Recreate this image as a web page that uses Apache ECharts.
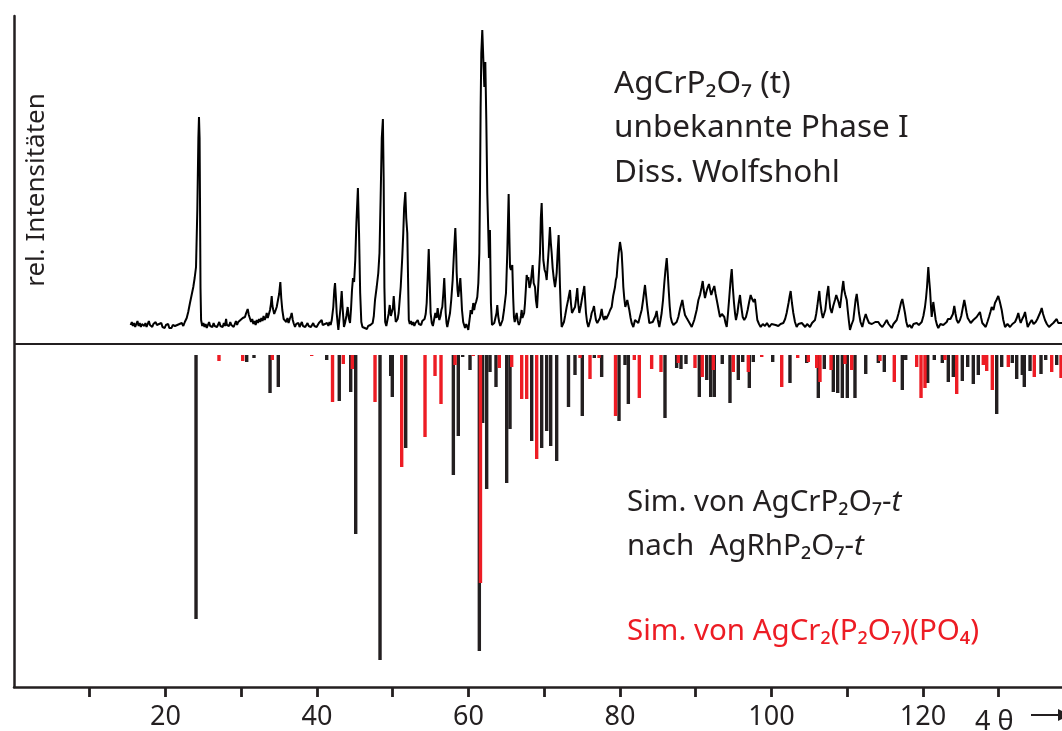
<!DOCTYPE html>
<html>
<head>
<meta charset="utf-8">
<script src="https://cdn.jsdelivr.net/npm/echarts@6/dist/echarts.min.js"></script>
<style>
  html, body { margin: 0; padding: 0; background: #fff; }
  #chart { width: 1062px; height: 731px; }
</style>
</head>
<body>
<div id="chart"></div>
<script>
const FONT = '"Noto Sans", "Open Sans", sans-serif';
const INK = '#231f20';
const RED = '#ed1c24';

// measured powder pattern AgCrP2O7 (t): [4θ, rel. intensity]
const observed = [
  [15.4,3],[15.55,6],[15.7,2],[15.85,5],[16.0,1],[16.15,4],[16.3,7],[16.45,2],[16.6,5],[16.75,1],[16.9,4],[17.05,6],[17.2,2],[17.35,5],[17.5,1],[17.65,3],[17.8,7],[17.95,3],[18.1,5],[18.25,1],[18.4,4],[18.55,2],[18.7,6],[18.85,3],[19.0,1],[19.15,4],[19.3,2],[19.45,5],[19.6,1],[19.75,3],[19.9,0],[20.05,3],[20.2,1],[20.35,4],[20.5,0],[20.65,2],[20.8,0],[20.95,3],[21.1,1],[21.25,2],[21.4,0],[21.55,3],[21.7,1],[21.85,4],[22.0,2],[22.15,5],[22.35,2],
  [22.55,6],[22.8,10],[23.0,16],[23.23,25],[23.45,33],[23.67,41],[23.85,50],[24.03,61],[24.2,118],[24.34,190],[24.42,211],[24.5,190],[24.56,120],[24.62,40],[24.7,8],
  [24.85,2],[25.0,5],[25.15,1],[25.3,4],[25.45,0],[25.6,3],[25.75,6],[25.9,2],[26.05,4],[26.2,1],[26.35,5],[26.5,2],[26.65,4],[26.8,1],[26.95,3],[27.1,6],[27.25,2],[27.4,4],[27.55,1],[27.7,5],[27.85,2],[28.0,9],[28.1,3],[28.25,5],[28.4,2],[28.55,6],[28.7,3],[28.85,5],[29.0,1],[29.15,4],[29.3,7],[29.45,3],[29.6,6],[29.75,4],[29.9,8],[30.05,6],[30.2,10],[30.35,8],[30.49,11],[30.65,15],[30.85,19],[31.0,13],[31.16,11],[31.3,6],[31.45,9],[31.6,4],[31.75,7],[31.9,3],[32.05,8],[32.2,5],[32.35,9],[32.5,6],[32.65,10],[32.8,7],[32.95,12],[33.1,8],[33.25,11],[33.36,15],[33.5,10],[33.65,14],[33.8,18],[33.92,24],[34.02,32],[34.12,22],[34.23,18],[34.35,14],[34.5,17],[34.68,21],[34.85,28],[35.0,34],[35.16,46],[35.28,30],[35.42,18],[35.6,9],[35.78,11],[35.95,6],[36.1,10],[36.25,5],[36.4,9],[36.55,12],[36.66,15],[36.8,8],[36.95,4],
  [37.1,1],[37.25,4],[37.4,2],[37.55,5],[37.7,1],[37.85,3],[38.0,6],[38.15,2],[38.3,4],[38.45,1],[38.6,3],[38.75,5],[38.9,2],[39.05,4],[39.2,1],[39.35,3],[39.5,5],[39.65,2],[39.8,4],[39.95,1],[40.1,3],[40.25,5],[40.4,3],[40.62,8],[40.75,3],[40.9,1],[41.05,4],[41.2,2],[41.35,5],[41.5,2],[41.65,6],[41.8,3],[41.95,8],[42.15,21],[42.28,38],[42.38,45],[42.5,30],[42.6,15],[42.72,5],[42.82,-2],[42.95,8],[43.1,20],[43.26,37],[43.4,18],[43.56,1],[43.7,5],[43.88,12],[44.05,21],[44.2,10],[44.36,5],
  [44.5,20],[44.62,38],[44.75,50],[44.9,46],[45.05,68],[45.2,105],[45.4,140],[45.55,95],[45.7,35],[45.85,6],[46.0,1],[46.15,3],[46.3,0],[46.45,2],[46.6,-1],[46.75,2],[46.9,1],[47.05,3],[47.2,2],[47.35,5],[47.5,12],[47.66,28],[47.88,41],[48.09,55],[48.25,75],[48.4,130],[48.55,190],[48.7,209],[48.8,150],[48.9,40],[49.0,6],[49.15,2],[49.3,8],[49.45,14],[49.6,23],[49.75,12],[49.9,10],[50.02,20],[50.13,32],[50.25,18],[50.4,6],[50.55,4],[50.65,9],[50.78,15],[51.05,41],[51.25,70],[51.39,95],[51.5,120],[51.66,136],[51.78,110],[51.92,95],[52.02,50],[52.12,8],
  [52.25,4],[52.4,7],[52.55,3],[52.7,6],[52.85,2],[53.0,5],[53.15,3],[53.3,8],[53.45,4],[53.6,6],[53.75,3],[53.9,7],[54.05,5],[54.2,9],[54.35,14],[54.48,25],[54.6,48],[54.75,79],[54.9,41],[55.0,15],[55.15,5],[55.3,2],[55.45,8],[55.62,15],[55.78,10],[55.93,20],[56.05,12],[56.15,8],[56.3,12],[56.42,18],[56.54,21],[56.68,35],[56.8,50],[56.9,32],[56.99,15],[57.1,5],[57.2,1],[57.38,8],[57.56,15],[57.72,28],[57.91,48],[58.08,75],[58.26,100],[58.36,80],[58.44,55],[58.55,38],[58.65,31],[58.78,40],[58.92,50],[59.03,35],[59.14,18],[59.3,6],[59.42,3],[59.54,0],[59.7,4],[59.85,1],[59.97,-2],[60.1,6],[60.2,12],[60.28,18],[60.45,14],[60.55,20],[60.63,25],[60.75,18],[60.86,23],[61.0,26],[61.16,31],[61.3,45],[61.43,75],
  [61.52,141],[61.6,220],[61.69,275],[61.82,298],[61.96,300],[62.09,241],[62.22,266],[62.35,208],[62.48,135],[62.6,100],[62.7,70],[62.83,98],[62.96,25],[63.1,3],[63.25,1],[63.4,5],[63.55,10],[63.7,15],[63.8,23],[63.92,12],[64.05,6],[64.2,2],[64.35,5],[64.5,8],[64.69,18],[64.95,35],[65.12,75],[65.3,134],[65.4,90],[65.48,61],[65.6,58],[65.78,63],[65.9,30],[66.0,11],[66.1,6],[66.2,10],[66.36,15],[66.5,7],[66.65,3],[66.8,6],[66.92,12],[67.02,18],[67.12,10],[67.24,8],[67.35,15],[67.46,25],[67.58,40],[67.68,53],[67.8,48],[67.9,51],[68.05,40],[68.21,45],[68.35,55],[68.47,63],[68.6,45],[68.78,41],[68.9,28],[69.05,20],[69.15,18],[69.27,21],[69.44,75],[69.55,110],[69.66,125],[69.77,95],[69.88,68],[70.05,58],[70.19,55],[70.32,48],[70.45,48],[70.6,80],[70.75,101],[70.87,85],[70.98,75],[71.11,60],[71.25,50],[71.42,41],[71.54,48],[71.64,55],[71.78,78],[71.9,93],[71.98,70],[72.08,41],[72.2,15],[72.3,1],
  [72.45,3],[72.6,6],[72.75,12],[72.96,21],[73.15,28],[73.4,38],[73.52,25],[73.66,15],[73.85,18],[74.06,21],[74.22,30],[74.36,40],[74.48,25],[74.63,15],[74.82,22],[75.02,31],[75.15,36],[75.29,42],[75.4,28],[75.51,15],[75.65,6],[75.82,1],[76.0,6],[76.14,10],[76.26,15],[76.42,18],[76.57,22],[76.7,14],[76.83,8],[77.0,5],[77.19,3],[77.35,10],[77.48,15],[77.58,19],[77.72,12],[77.89,8],[78.05,12],[78.18,9],[78.32,11],[78.5,14],[78.7,18],[78.9,21],[79.1,32],[79.34,41],[79.45,48],[79.56,51],[79.7,65],[79.83,75],[80.0,86],[80.12,80],[80.22,75],[80.34,58],[80.44,41],[80.56,30],[80.7,21],[80.82,24],[80.96,28],[81.1,30],[81.23,18],[81.4,10],[81.54,5],[81.76,1],[81.98,8],[82.2,6],[82.42,5],[82.65,12],[82.86,18],[83.05,28],[83.3,43],[83.45,32],[83.6,21],[83.75,12],[83.87,5],[84.1,4],[84.32,6],[84.5,9],[84.68,12],[84.84,17],[85.0,8],[85.19,1],[85.35,8],[85.5,15],[85.68,28],[85.85,45],[86.0,58],[86.17,70],[86.3,55],[86.43,38],[86.56,22],[86.69,11],[86.85,6],[87.05,3],[87.26,1],[87.48,6],[87.7,11],[87.95,20],[88.23,28],[88.4,20],[88.58,13],[88.8,10],[89.02,8],[89.25,4],[89.47,1],[89.8,8],
  [90.12,18],[90.35,28],[90.56,33],[90.75,40],[90.92,47],[91.05,38],[91.22,30],[91.4,36],[91.55,40],[91.75,44],[91.9,38],[92.05,33],[92.25,38],[92.45,42],[92.62,34],[92.85,25],[93.02,18],[93.2,11],[93.45,14],[93.77,11],[93.93,5],[94.09,1],[94.25,14],[94.43,31],[94.6,48],[94.75,59],[94.9,40],[95.05,25],[95.18,15],[95.31,8],[95.5,15],[95.65,24],[95.84,33],[96.0,22],[96.2,11],[96.4,8],[96.63,11],[96.85,18],[97.05,26],[97.25,33],[97.38,30],[97.52,28],[97.65,26],[97.82,29],[97.98,18],[98.13,8],[98.35,4],[98.57,1],[98.85,4],[99.14,2],[99.4,5],[99.71,1],[100.0,4],[100.24,6],[100.55,3],[100.9,2],[101.2,4],[101.56,5],[101.8,9],[102.0,15],[102.25,25],[102.4,32],[102.53,37],[102.7,25],[102.88,15],[103.1,6],[103.32,1],[103.55,4],[103.8,2],[104.0,5],[104.2,3],[104.45,1],[104.7,4],[104.85,2],[105.08,1],[105.35,5],[105.55,4],[105.74,8],[105.9,14],[106.05,22],[106.18,30],[106.31,37],[106.45,25],[106.63,15],[106.78,10],[106.93,8],[107.1,18],[107.3,32],[107.5,42],[107.62,30],[107.75,20],[107.95,15],[108.15,22],[108.38,28],[108.55,33],[108.69,35],[108.85,26],[109.04,20],[109.2,30],[109.35,40],[109.48,47],[109.6,38],[109.75,33],[109.93,28],[110.06,18],[110.2,8],[110.36,-2],
  [110.55,3],[110.8,8],[110.95,18],[111.1,28],[111.25,34],[111.4,25],[111.55,15],[111.75,6],[111.99,1],[112.2,8],[112.44,14],[112.65,9],[112.88,5],[113.1,7],[113.25,4],[113.44,3],[113.7,6],[113.9,4],[114.1,6],[114.35,3],[114.63,1],[114.9,4],[115.05,6],[115.21,8],[115.45,4],[115.7,2],[115.87,0],[116.1,4],[116.3,5],[116.53,8],[116.75,14],[116.97,21],[117.12,26],[117.27,29],[117.45,22],[117.62,15],[117.8,6],[117.98,1],[118.25,3],[118.5,0],[118.75,4],[118.95,2],[119.17,5],[119.45,3],[119.65,4],[119.83,6],[120.05,12],[120.26,21],[120.4,30],[120.53,41],[120.7,61],[120.82,48],[120.93,38],[121.05,22],[121.15,11],[121.25,18],[121.36,26],[121.5,18],[121.68,8],[121.85,3],[122.02,0],[122.3,4],[122.5,2],[122.68,3],[122.9,5],[123.13,6],[123.3,9],[123.47,11],[123.62,9],[123.79,8],[123.95,14],[124.13,22],[124.3,14],[124.45,8],[124.65,5],[124.88,8],[125.05,12],[125.25,20],[125.45,28],[125.6,22],[125.76,15],[125.9,10],[126.07,8],[126.3,5],[126.45,7],[126.64,8],[126.85,6],[127.08,11],[127.3,13],[127.52,16],[127.68,10],[127.83,5],[128.05,3],[128.28,1],[128.5,6],[128.71,11],[128.9,16],[129.07,21],[129.3,18],[129.5,25],[129.7,28],[129.94,32],[130.15,26],[130.39,18],[130.6,8],[130.83,1],[131.15,4],[131.49,1],[131.8,4],[132.15,6],[132.38,10],[132.58,15],[132.75,9],[132.9,5],[133.1,9],[133.3,12],[133.47,16],[133.65,8],[133.82,1],[134.1,5],[134.35,8],[134.6,4],[134.88,6],[135.1,9],[135.31,11],[135.5,16],[135.67,20],[135.85,14],[136.1,8],[136.35,4],[136.63,1],[136.9,3],[137.2,5],[137.45,7],[137.65,9],[137.85,5],[138.08,3],[138.35,5]
];

// simulated reflections of AgCrP2O7-t after AgRhP2O7-t (black sticks): [4θ, intensity]
const simAgRh = [
  [24.03,264],[30.72,7],[31.68,3],[33.8,38],[34.89,32],[41.28,5],[42.94,46],[44.45,37],[45.11,179],[48.32,305],
  [49.73,21],[49.94,42],[51.71,93],[58.0,120],[58.65,81],[59.23,2],[60.2,15],[61.43,296],[61.87,68],[62.4,134],
  [62.84,17],[63.63,32],[65.04,128],[65.48,74],[68.34,86],[69.66,93],[70.32,76],[70.85,91],[71.64,106],[73.2,52],
  [74.06,20],[75.02,61],[76.61,3],[77.58,22],[79.87,66],[80.66,10],[81.1,49],[85.94,63],[87.48,13],[88.05,14],
  [88.71,9],[90.47,42],[91.45,25],[91.97,42],[92.45,42],[93.5,9],[94.52,48],[95.62,25],[96.2,7],[97.07,33],
  [97.6,7],[100.16,7],[102.44,28],[104.65,8],[106.18,43],[106.97,14],[108.16,37],[108.74,38],[109.35,43],[110.01,43],
  [111.02,43],[112.44,19],[114.1,8],[114.89,17],[117.27,35],[117.72,5],[120.62,28],[121.49,5],[122.55,8],[123.34,27],
  [124.0,22],[125.19,26],[125.9,12],[126.64,29],[127.3,20],[129.73,59],[130.39,12],[131.79,8],[132.37,24],[133.11,20],
  [133.37,32],[134.13,16],[135.58,19],[136.2,5],[137.65,10]
];

// simulated reflections of AgCr2(P2O7)(PO4) (red sticks): [4θ, intensity]
const simAgCr2 = [
  [27.06,6],[30.19,6],[34.1,5],[39.3,1],[42.05,47],[43.47,9],[44.66,14],[47.66,47],[51.18,112],[54.26,82],
  [55.58,21],[56.37,49],[58.22,10],[60.63,1],[61.58,228],[64.07,13],[65.7,12],[67.02,44],[67.68,44],[69.0,104],
  [74.72,3],[76.04,24],[77.23,3],[79.41,61],[81.89,5],[82.55,43],[84.18,14],[85.41,17],[87.7,8],[89.9,13],
  [90.86,22],[92.32,15],[94.96,17],[96.94,17],[98.71,2],[101.35,32],[103.46,3],[104.86,7],[105.97,13],[106.4,27],
  [107.86,15],[109.7,9],[110.59,15],[114.32,6],[116.21,27],[119.17,12],[119.74,43],[120.26,33],[122.9,5],[124.45,39],
  [127.96,10],[128.41,16],[129.15,35],[131.26,12],[134.69,22],[136.99,17],[138.22,23]
];

const xTickValues = [10, 20, 30, 40, 50, 60, 70, 80, 90, 100, 110, 120, 130];
const xTickLabels = [20, 40, 60, 80, 100, 120];

// vertical layout: measured pattern sits above the zero line, sticks hang below it
const PATTERN_BASE = 16;
const STICK_TOP = -11;
const STICK_W = 3.4;

function stickSeries(name, data, color) {
  return {
    name: name,
    type: 'custom',
    data: data,
    encode: { x: 0, y: 1 },
    clip: true,
    renderItem: function (params, api) {
      const top = api.coord([api.value(0), STICK_TOP]);
      const bot = api.coord([api.value(0), STICK_TOP - api.value(1)]);
      return {
        type: 'rect',
        shape: { x: top[0] - STICK_W / 2, y: top[1], width: STICK_W, height: bot[1] - top[1] },
        style: { fill: color }
      };
    }
  };
}

function textLine(x, baseline, text, size, color, rich) {
  const el = {
    type: 'text',
    x: x,
    y: baseline - size * 0.36,
    style: {
      text: text,
      fontSize: size,
      fontFamily: FONT,
      fill: color,
      align: 'left',
      verticalAlign: 'middle'
    }
  };
  if (rich) el.style.rich = rich;
  return el;
}

const richBlack = {
  n: { fontSize: 29.5, fontFamily: FONT, fill: INK },
  i: { fontSize: 29.5, fontFamily: FONT, fill: INK, fontStyle: 'italic' }
};

const chart = echarts.init(document.getElementById('chart'), null, { renderer: 'canvas' });
chart.setOption({
  animation: false,
  backgroundColor: '#fff',
  grid: { left: 14, right: 0, top: 16, bottom: 44, containLabel: false },
  xAxis: {
    type: 'value',
    min: 0,
    max: 138.35,
    interval: 10,
    axisLine: { onZero: false, lineStyle: { color: INK, width: 2.5 } },
    axisTick: { customValues: xTickValues, length: 10, lineStyle: { color: INK, width: 2.8 } },
    axisLabel: { customValues: xTickLabels, fontSize: 27, fontFamily: FONT, color: INK, margin: 17 },
    splitLine: { show: false }
  },
  yAxis: {
    type: 'value',
    min: -343,
    max: 328,
    axisLine: { show: true, onZero: false, lineStyle: { color: INK, width: 2.5 } },
    axisTick: { show: false },
    axisLabel: { show: false },
    splitLine: { show: false }
  },
  series: [
    stickSeries('AgCrP2O7-t nach AgRhP2O7-t', simAgRh, INK),
    stickSeries('AgCr2(P2O7)(PO4)', simAgCr2, RED),
    {
      name: 'AgCrP2O7 (t)',
      type: 'line',
      data: observed.map(p => [p[0], p[1] + PATTERN_BASE]),
      showSymbol: false,
      lineStyle: { color: '#000', width: 2 },
      z: 3,
      markLine: {
        silent: true,
        symbol: ['none', 'none'],
        label: { show: false },
        lineStyle: { color: INK, width: 1.8, type: 'solid' },
        data: [{ yAxis: 0 }]
      }
    }
  ],
  graphic: [
    textLine(614, 95, 'AgCrP₂O₇ (t)', 31.5, INK),
    textLine(614, 139, 'unbekannte Phase I', 31.5, INK),
    textLine(614, 184, 'Diss. Wolfshohl', 31.5, INK),
    textLine(627, 513, '{n|Sim. von AgCrP₂O₇-}{i|t}', 29.5, INK, richBlack),
    textLine(627, 557, '{n|nach  AgRhP₂O₇-}{i|t}', 29.5, INK, richBlack),
    textLine(627, 642, 'Sim. von AgCr₂(P₂O₇)(PO₄)', 29.5, RED),
    {
      type: 'text',
      x: 37,
      y: 190,
      rotation: Math.PI / 2,
      style: { text: 'rel. Intensitäten', fontSize: 26, fontFamily: FONT, fill: INK, align: 'center', verticalAlign: 'middle' }
    },
    textLine(975, 732, '4 θ', 27, INK),
    { type: 'line', shape: { x1: 1031, y1: 715, x2: 1062, y2: 715 }, style: { stroke: INK, lineWidth: 2 } },
    { type: 'polygon', shape: { points: [[1058, 709], [1070, 715], [1058, 721]] }, style: { fill: INK } }
  ]
});
</script>
</body>
</html>
